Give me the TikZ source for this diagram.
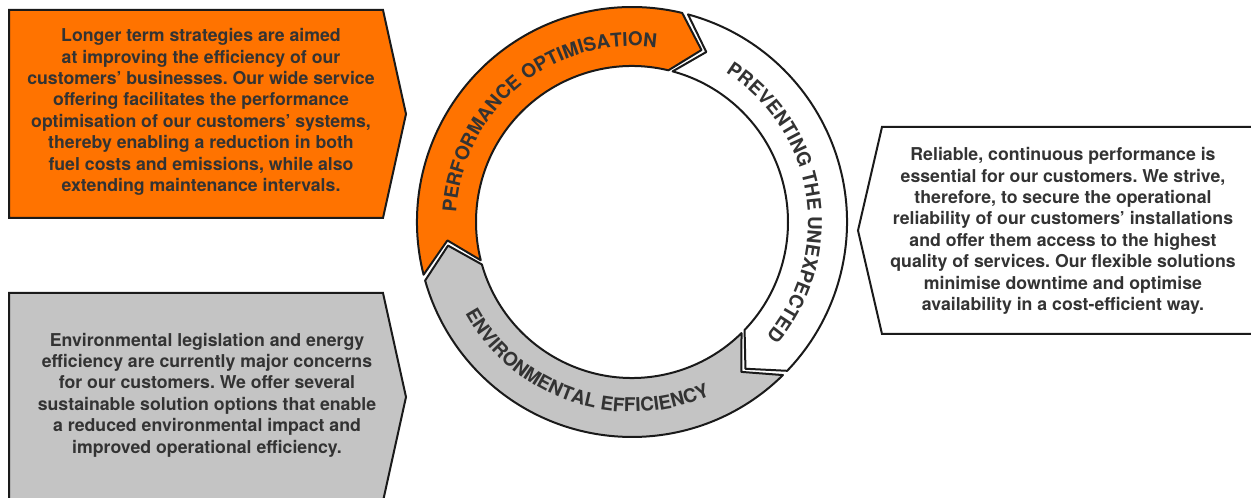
\documentclass[tikz,border=0pt]{standalone}
\usepackage{fontspec}
\setsansfont{TeX Gyre Heros}
\usetikzlibrary{decorations.text}
\frenchspacing
\definecolor{orng}{HTML}{FF7300}
\definecolor{gry}{HTML}{C4C4C4}
\definecolor{txt}{HTML}{333333}
\definecolor{edge}{HTML}{1A1A1A}
\tikzset{
  box/.style={draw=edge, line width=2pt, line join=miter},
  seg/.style={draw=edge, line width=2pt, line join=round},
  body/.style={font=\sffamily\bfseries\fontsize{17.7}{21.4}\selectfont, align=center, text=txt, inner sep=0pt},
  arctext/.style={decorate, decoration={text along path, text align=center, text color=txt,
     text={|\sffamily\bfseries\fontsize{19}{19}\selectfont|#1}}}
}
\begin{document}
\begin{tikzpicture}[x=1pt,y=1pt]
\useasboundingbox (0,0) rectangle (1251,498);
% boxes
\draw[box, fill=orng] (9,488) -- (383,488) -- (406,384) -- (383,280) -- (9,280) -- cycle;
\draw[box, fill=gry] (9,205) -- (383,205) -- (406,101) -- (381.5,-10) -- (9,-10) -- cycle;
\draw[box, fill=white] (1260,371) -- (882,371) -- (858,267.5) -- (882,164) -- (1260,164) -- cycle;
\node[body] (torange) at (201,386) {Longer term strategies are aimed\\at improving the efficiency of our\\customers’ businesses. Our wide service\\offering facilitates the performance\\optimisation of our customers’ systems,\\thereby enabling a reduction in both\\fuel costs and emissions, while also\\extending maintenance intervals.};
\node[body] (tgray) at (207,103) {Environmental legislation and energy\\efficiency are currently major concerns\\for our customers. We offer several\\sustainable solution options that enable\\a reduced environmental impact and\\improved operational efficiency.};
\node[body] (twhite) at (1063,267) {Reliable, continuous performance is\\essential for our customers. We strive,\\therefore, to secure the operational\\reliability of our customers’ installations\\and offer them access to the highest\\quality of services. Our flexible solutions\\minimise downtime and optimise\\availability in a cost-efficient way.};
% ring
\begin{scope}[shift={(632,276)}]
\draw[seg, fill=orng] (194.2:215) arc[start angle=194.2, end angle=76.5, radius=215] -- (68:185.5) -- (76.5:156) arc[start angle=76.5, end angle=194.2, radius=156] -- (185.7:185.5) -- cycle;
\draw[seg, fill=white] (74.9:215) arc[start angle=74.9, end angle=-43.8, radius=215] -- (-52.3:185.5) -- (-43.8:156) arc[start angle=-43.8, end angle=74.9, radius=156] -- (66.4:185.5) -- cycle;
\draw[seg, fill=gry] (314.6:215) arc[start angle=314.6, end angle=195.8, radius=215] -- (187.3:185.5) -- (195.8:156) arc[start angle=195.8, end angle=314.6, radius=156] -- (306.1:185.5) -- cycle;
\path[arctext={PERFORMANCE OPTIMISATION}] (180:176) arc[start angle=180, end angle=79, radius=176];
\path[arctext={PREVENTING THE UNEXPECTED}] (59:176) arc[start angle=59, end angle=-41.5, radius=176];
\path[arctext={ENVIRONMENTAL EFFICIENCY}] (203:190) arc[start angle=203, end angle=300, radius=190];
\end{scope}
\end{tikzpicture}
\end{document}
